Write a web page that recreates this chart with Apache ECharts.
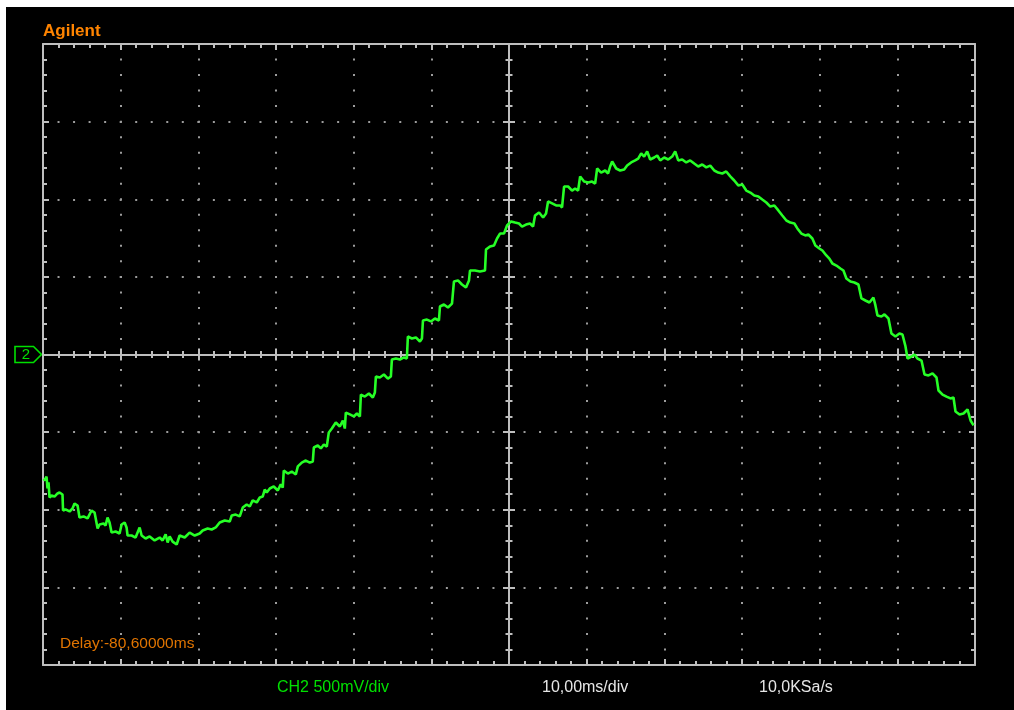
<!DOCTYPE html>
<html>
<head>
<meta charset="utf-8">
<script src="https://cdn.jsdelivr.net/npm/echarts@6/dist/echarts.min.js"></script>
<style>
  html, body { margin: 0; padding: 0; background: #ffffff; width: 1014px; height: 710px; overflow: hidden; }
  #chart { position: absolute; left: 6px; top: 7px; width: 1008px; height: 703px; background: #000; }
</style>
</head>
<body>
<div id="chart"></div>
<script>
// ---- data (time in ms, voltage in V) ----
const T_MIN = -60, T_MAX = 60, T_DIV = 10;      // 10,00 ms/div, 12 divisions
const V_MIN = -2, V_MAX = 2, V_DIV = 0.5;       // 500 mV/div, 8 divisions

const brandLabel = 'Agilent';
const delayLabel = 'Delay:-80,60000ms';
const channelLabel = 'CH2 500mV/div';
const timebaseLabel = '10,00ms/div';
const sampleLabel = '10,0KSa/s';
const markerLabel = '2';

const timeMs = [-59.94,-59.68,-59.55,-59.42,-59.29,-59.16,-58.90,-58.52,-58.13,-57.87,-57.49,-57.42,-57.10,-56.58,-56.20,-55.94,-55.55,-55.30,-54.78,-54.26,-53.75,-53.36,-52.97,-52.72,-52.20,-51.94,-51.69,-51.43,-51.17,-50.65,-50.14,-49.88,-49.49,-49.24,-49.11,-48.59,-48.08,-47.56,-47.30,-46.79,-46.27,-45.63,-44.98,-44.60,-44.21,-43.95,-43.69,-43.31,-42.79,-42.41,-41.76,-41.12,-40.47,-39.83,-39.44,-38.80,-38.28,-37.76,-37.25,-36.60,-35.96,-35.70,-35.19,-34.67,-34.28,-33.77,-33.38,-33.00,-32.48,-32.09,-31.71,-31.45,-31.19,-30.80,-30.29,-29.77,-29.39,-29.13,-29.00,-28.48,-27.97,-27.45,-27.19,-26.68,-26.16,-25.65,-25.26,-25.13,-24.62,-24.23,-23.84,-23.46,-23.20,-22.81,-22.30,-21.78,-21.39,-21.14,-21.01,-20.49,-19.98,-19.59,-19.20,-19.07,-18.56,-18.04,-17.53,-17.27,-17.14,-16.63,-16.11,-15.59,-15.21,-15.08,-14.56,-14.05,-13.53,-13.15,-13.02,-12.50,-11.99,-11.47,-11.21,-11.08,-10.57,-10.05,-9.54,-9.02,-8.89,-8.38,-7.86,-7.34,-7.09,-6.57,-6.06,-5.54,-5.15,-5.02,-4.38,-3.74,-3.09,-2.96,-2.45,-1.93,-1.54,-1.16,-0.64,-0.25,0.26,0.78,1.29,1.68,2.19,2.71,3.10,3.35,3.87,4.39,4.77,5.03,5.55,6.06,6.58,6.83,7.09,7.61,8.12,8.51,8.90,9.16,9.67,10.19,10.70,11.09,11.35,11.86,12.38,12.76,13.02,13.28,13.80,14.31,14.83,15.21,15.73,16.24,16.63,17.02,17.40,17.79,18.18,18.69,19.08,19.47,19.98,20.50,21.01,21.40,21.79,22.30,22.82,23.33,23.85,24.36,24.88,25.40,25.91,26.43,26.94,27.46,27.97,28.49,29.00,29.52,30.04,30.55,31.07,31.58,32.10,32.61,33.13,33.65,34.16,34.68,35.19,35.71,36.22,36.74,37.13,37.64,38.16,38.54,39.06,39.45,39.96,40.35,40.86,41.25,41.64,42.15,42.67,43.06,43.44,43.96,44.47,44.99,45.38,45.89,46.41,46.92,47.18,47.44,47.95,48.34,48.86,49.24,49.76,50.27,50.66,51.05,51.31,51.82,52.21,52.59,53.11,53.50,54.01,54.53,55.04,55.30,55.82,56.33,56.85,57.23,57.49,58.01,58.52,59.04,59.43,59.81];

const voltV = [-0.812,-0.799,-0.786,-0.863,-0.824,-0.921,-0.908,-0.915,-0.895,-0.889,-0.902,-1.005,-0.998,-1.011,-0.992,-0.960,-0.973,-1.050,-1.043,-1.056,-1.005,-1.018,-1.121,-1.095,-1.089,-1.101,-1.050,-1.082,-1.147,-1.140,-1.153,-1.095,-1.082,-1.114,-1.166,-1.166,-1.179,-1.114,-1.166,-1.185,-1.172,-1.198,-1.179,-1.198,-1.159,-1.211,-1.172,-1.205,-1.224,-1.166,-1.179,-1.147,-1.166,-1.153,-1.134,-1.121,-1.127,-1.114,-1.082,-1.069,-1.076,-1.037,-1.031,-1.043,-0.986,-0.966,-0.979,-0.940,-0.953,-0.921,-0.915,-0.870,-0.889,-0.863,-0.850,-0.876,-0.837,-0.857,-0.747,-0.767,-0.754,-0.773,-0.721,-0.696,-0.683,-0.696,-0.689,-0.599,-0.586,-0.605,-0.580,-0.593,-0.502,-0.477,-0.438,-0.464,-0.425,-0.477,-0.374,-0.386,-0.399,-0.380,-0.399,-0.258,-0.271,-0.251,-0.277,-0.245,-0.142,-0.148,-0.129,-0.155,-0.142,-0.032,-0.026,-0.032,-0.019,-0.026,0.116,0.103,0.110,0.084,0.103,0.219,0.225,0.213,0.232,0.219,0.309,0.322,0.303,0.328,0.470,0.477,0.451,0.432,0.477,0.541,0.541,0.535,0.541,0.676,0.696,0.702,0.747,0.779,0.779,0.831,0.857,0.850,0.844,0.824,0.837,0.844,0.824,0.895,0.915,0.882,0.908,0.986,0.973,0.960,0.960,0.947,1.082,1.082,1.056,1.069,1.056,1.147,1.114,1.108,1.114,1.101,1.198,1.172,1.185,1.166,1.211,1.243,1.198,1.185,1.192,1.217,1.237,1.250,1.262,1.295,1.275,1.308,1.256,1.269,1.282,1.250,1.269,1.256,1.275,1.308,1.250,1.256,1.237,1.250,1.230,1.211,1.224,1.205,1.217,1.185,1.172,1.166,1.179,1.147,1.121,1.089,1.095,1.056,1.043,1.024,1.018,0.998,0.979,0.953,0.960,0.928,0.895,0.863,0.850,0.844,0.812,0.779,0.767,0.773,0.747,0.702,0.683,0.670,0.638,0.618,0.586,0.573,0.554,0.541,0.490,0.470,0.464,0.451,0.361,0.348,0.335,0.367,0.316,0.251,0.245,0.258,0.232,0.135,0.116,0.135,0.129,0.052,-0.026,-0.013,0,-0.026,-0.039,-0.129,-0.135,-0.122,-0.148,-0.232,-0.258,-0.271,-0.283,-0.277,-0.367,-0.386,-0.380,-0.354,-0.425,-0.457];

// ---- styles ----
const FRAME = '#bebebe';
const DOT = '#9c9c9c';
const TRACE = '#26ff26';
const GREEN_TXT = '#00e000';
const ORANGE = '#ff8400';
const ORANGE_DIM = '#e07400';
const FONT = '"Liberation Sans", Arial, sans-serif';

const n = Math.min(timeMs.length, voltV.length);
const traceData = [];
for (let i = 0; i < n; i++) traceData.push([timeMs[i], voltV[i]]);

function frameAxis(min, max, interval, position, withSplit, period) {
  return {
    type: 'value', min: min, max: max, interval: interval, position: position,
    axisLine: { show: true, onZero: false, lineStyle: { color: FRAME, width: 2 } },
    axisTick: { show: true, inside: true, length: 6, lineStyle: { color: FRAME, width: 2 } },
    minorTick: { show: true, splitNumber: 5, length: 4, lineStyle: { color: FRAME, width: 2 } },
    axisLabel: { show: false },
    splitLine: { show: withSplit, lineStyle: { color: DOT, width: 2, type: [2, period - 2], dashOffset: 1 } },
    minorSplitLine: { show: false },
    splitArea: { show: false }
  };
}
function centerAxis(min, max, interval, position) {
  return {
    type: 'value', min: min, max: max, interval: interval, position: position,
    axisLine: { show: true, onZero: true, onZeroAxisIndex: 0, lineStyle: { color: FRAME, width: 2 } },
    axisTick: { show: true, inside: false, length: 6, lineStyle: { color: FRAME, width: 2 } },
    minorTick: { show: true, splitNumber: 5, length: 3.5, lineStyle: { color: FRAME, width: 2 } },
    axisLabel: { show: false },
    splitLine: { show: false },
    minorSplitLine: { show: false }
  };
}

const GRID = { left: 37, top: 37, width: 932, height: 621 };
const xPeriod = GRID.height / 40;  // dots along vertical grid lines
const yPeriod = GRID.width / 60;   // dots along horizontal grid lines

const chart = echarts.init(document.getElementById('chart'), null, { renderer: 'canvas' });
chart.setOption({
  animation: false,
  backgroundColor: '#000000',
  grid: Object.assign({ containLabel: false, show: false }, GRID),
  xAxis: [
    frameAxis(T_MIN, T_MAX, T_DIV, 'bottom', true, xPeriod),
    frameAxis(T_MIN, T_MAX, T_DIV, 'top', false, xPeriod),
    centerAxis(T_MIN, T_MAX, T_DIV, 'bottom'),
    centerAxis(T_MIN, T_MAX, T_DIV, 'top')
  ],
  yAxis: [
    frameAxis(V_MIN, V_MAX, V_DIV, 'left', true, yPeriod),
    frameAxis(V_MIN, V_MAX, V_DIV, 'right', false, yPeriod),
    centerAxis(V_MIN, V_MAX, V_DIV, 'left'),
    centerAxis(V_MIN, V_MAX, V_DIV, 'right')
  ],
  series: [{
    type: 'line', xAxisIndex: 0, yAxisIndex: 0,
    data: traceData, showSymbol: false, symbol: 'none', smooth: false,
    lineStyle: { color: TRACE, width: 2.6 }, z: 5, silent: true
  }]
});

const x0 = chart.convertToPixel({ xAxisIndex: 0 }, T_MIN);
const y0 = chart.convertToPixel({ yAxisIndex: 0 }, 0);
const yTop = chart.convertToPixel({ yAxisIndex: 0 }, V_MAX);
const yBot = chart.convertToPixel({ yAxisIndex: 0 }, V_MIN);

chart.setOption({
  graphic: { elements: [
    { type: 'text', x: x0, y: yTop - 13, silent: true,
      style: { text: brandLabel, fill: ORANGE, font: 'bold 17px ' + FONT, align: 'left', verticalAlign: 'middle' } },
    { type: 'text', x: x0 + 17, y: yBot - 21, silent: true,
      style: { text: delayLabel, fill: ORANGE_DIM, font: '15.5px ' + FONT, align: 'left', verticalAlign: 'middle' } },
    { type: 'text', x: 271, y: yBot + 23, silent: true,
      style: { text: channelLabel, fill: GREEN_TXT, font: '16px ' + FONT, align: 'left', verticalAlign: 'middle' } },
    { type: 'text', x: 536, y: yBot + 23, silent: true,
      style: { text: timebaseLabel, fill: '#e6e6e6', font: '16px ' + FONT, align: 'left', verticalAlign: 'middle' } },
    { type: 'text', x: 753, y: yBot + 23, silent: true,
      style: { text: sampleLabel, fill: '#e6e6e6', font: '16px ' + FONT, align: 'left', verticalAlign: 'middle' } },
    { type: 'polygon', silent: true,
      shape: { points: [[x0 - 28, y0 - 8], [x0 - 9.5, y0 - 8], [x0 - 1.5, y0], [x0 - 9.5, y0 + 8], [x0 - 28, y0 + 8]] },
      style: { fill: 'none', stroke: GREEN_TXT, lineWidth: 1.6 } },
    { type: 'text', x: x0 - 17, y: y0, silent: true,
      style: { text: markerLabel, fill: GREEN_TXT, font: '15px ' + FONT, align: 'center', verticalAlign: 'middle' } }
  ] }
});
</script>
</body>
</html>
